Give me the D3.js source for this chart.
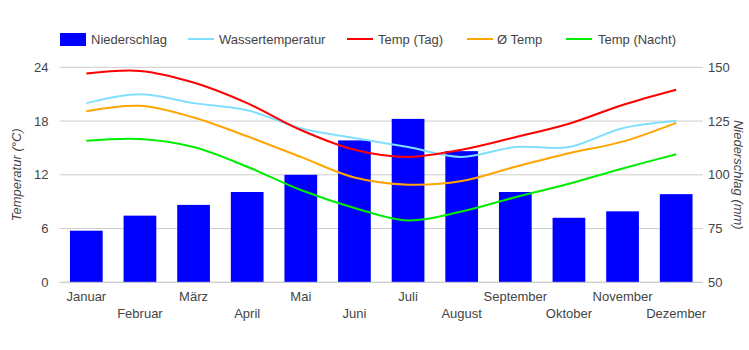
<!DOCTYPE html>
<html><head><meta charset="utf-8">
<script src="https://cdn.jsdelivr.net/npm/d3@7"></script>
<style>body{margin:0;background:#fff}svg{display:block;font-family:"Liberation Sans",Arial,sans-serif}</style>
</head><body><svg id="c" width="749" height="350"></svg>
<script>
const months = ["Januar","Februar","März","April","Mai","Juni","Juli","August","September","Oktober","November","Dezember"];
const niederschlag = [74, 81, 86, 92, 100, 116, 126, 111, 92, 80, 83, 91];
const wassertemp = [20.0, 21.0, 20.0, 19.2, 17.2, 16.1, 15.1, 14.0, 15.1, 15.1, 17.2, 18.0];
const tempTag = [23.3, 23.6, 22.3, 20.0, 17.0, 14.8, 14.0, 14.8, 16.2, 17.7, 19.8, 21.5];
const tempAvg = [19.1, 19.7, 18.4, 16.3, 14.0, 11.7, 10.9, 11.3, 12.9, 14.4, 15.7, 17.8];
const tempNacht = [15.8, 16.0, 15.1, 12.9, 10.3, 8.3, 6.9, 7.9, 9.5, 11.0, 12.7, 14.3];
const leftTicks = [0, 6, 12, 18, 24];
const rightTicks = [50, 75, 100, 125, 150];

const svg = d3.select("#c");
const L = 59.5, R = 703, T = 67.3, B = 282.3;
const x = d3.scaleBand().domain(months).range([L, R]).paddingInner(0.39).paddingOuter(0.195);
const xc = d => x(d) + x.bandwidth() / 2;
const yL = d3.scaleLinear().domain([0, 24]).range([B, T]);
const yR = d3.scaleLinear().domain([50, 150]).range([B, T]);
const txt = "#444";

// gridlines
svg.append("g").selectAll("line").data(leftTicks).join("line")
  .attr("x1", L).attr("x2", R).attr("y1", d => yL(d)).attr("y2", d => yL(d))
  .attr("stroke", "#ccc").attr("stroke-width", 1);

// left axis labels
const la = svg.append("g").attr("transform", `translate(${L},0)`)
  .call(d3.axisLeft(yL).tickValues(leftTicks).tickSize(0).tickPadding(11));
la.select(".domain").remove();
la.selectAll("text").attr("font-size", 13).attr("fill", txt).attr("font-family", "Liberation Sans, Arial, sans-serif");

// right axis
const ra = svg.append("g").attr("transform", `translate(${R},0)`)
  .call(d3.axisRight(yR).tickValues(rightTicks).tickSize(0).tickPadding(5));
ra.select(".domain").remove();
ra.selectAll("text").attr("font-size", 13).attr("fill", txt).attr("font-family", "Liberation Sans, Arial, sans-serif");

// bars
svg.append("g").selectAll("rect").data(niederschlag).join("rect")
  .attr("x", (d, i) => x(months[i])).attr("width", x.bandwidth())
  .attr("y", d => yR(d)).attr("height", d => B - yR(d)).attr("fill", "#0000ff");

// baseline
svg.append("line").attr("x1", L).attr("x2", R).attr("y1", B).attr("y2", B).attr("stroke", "#ccc");

// lines
const series = [
  {name: "Wassertemperatur", vals: wassertemp, color: "#80dfff"},
  {name: "Temp (Tag)", vals: tempTag, color: "#ff0000"},
  {name: "Ø Temp", vals: tempAvg, color: "#ffa500"},
  {name: "Temp (Nacht)", vals: tempNacht, color: "#00ee00"}
];
const line = d3.line().x((d, i) => xc(months[i])).y(d => yL(d)).curve(d3.curveCatmullRom.alpha(0.5));
series.forEach(s => {
  svg.append("path").attr("d", line(s.vals)).attr("fill", "none")
    .attr("stroke", s.color).attr("stroke-width", 2);
});

// x labels (staggered)
svg.append("g").selectAll("text").data(months).join("text")
  .attr("x", d => xc(d)).attr("y", (d, i) => i % 2 === 0 ? 301 : 318)
  .attr("text-anchor", "middle").attr("font-size", 13).attr("fill", txt).text(d => d);

// axis titles
svg.append("text").attr("transform", `translate(21,${(T + B) / 2}) rotate(-90)`)
  .attr("text-anchor", "middle").attr("font-size", 13).attr("font-style", "italic").attr("fill", txt)
  .text("Temperatur (°C)");
svg.append("text").attr("transform", `translate(734,${(T + B) / 2}) rotate(90)`)
  .attr("text-anchor", "middle").attr("font-size", 13).attr("font-style", "italic").attr("fill", txt)
  .text("Niederschlag (mm)");

// legend
const leg = svg.append("g");
leg.append("rect").attr("x", 60).attr("y", 33).attr("width", 26).attr("height", 13).attr("fill", "#0000ff");
leg.append("text").attr("x", 91).attr("y", 44).attr("font-size", 13).attr("fill", txt).text("Niederschlag");
const legX = [188, 347, 467, 566];
const legTx = [219, 378, 497, 598];
series.forEach((s, i) => {
  leg.append("line").attr("x1", legX[i]).attr("x2", legX[i] + 26).attr("y1", 39).attr("y2", 39)
    .attr("stroke", s.color).attr("stroke-width", 2);
  leg.append("text").attr("x", legTx[i]).attr("y", 44).attr("font-size", 13).attr("fill", txt).text(s.name);
});
</script></body></html>
